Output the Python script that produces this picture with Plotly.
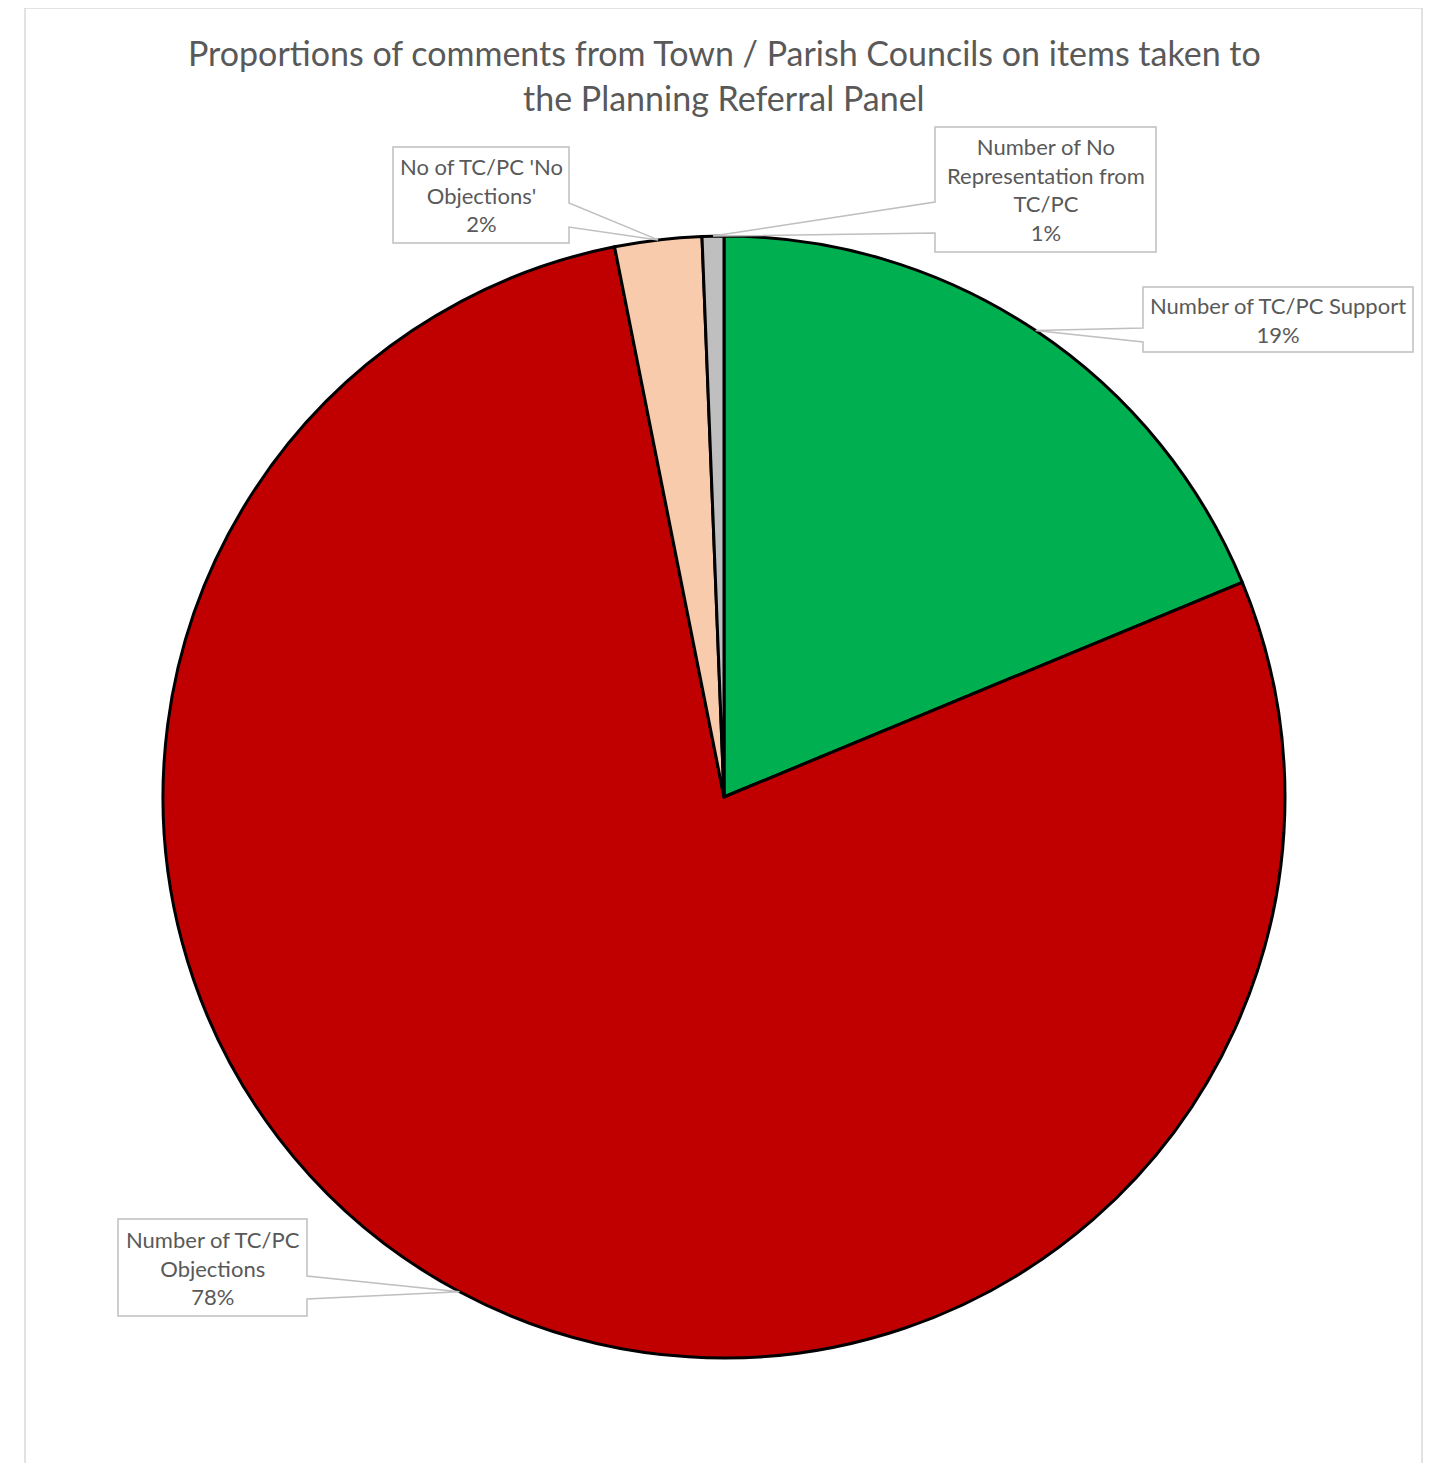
import math
import plotly.graph_objects as go

# ---- data ----
categories = [
    "Number of TC/PC Support",
    "Number of TC/PC Objections",
    "No of TC/PC 'No Objections'",
    "Number of No Representation from TC/PC",
]
label_text = [
    "Number of TC/PC Support",
    "Number of TC/PC<br>Objections",
    "No of TC/PC 'No<br>Objections'",
    "Number of No<br>Representation from<br>TC/PC",
]
counts = [30, 125, 4, 1]
colors = ["#00B050", "#C00000", "#F8CBAD", "#BFBFBF"]
title_lines = [
    "Proportions of comments from Town / Parish Councils on items taken to",
    "the Planning Referral Panel",
]

# ---- layout constants (pixels in the screenshot) ----
W, H = 1437, 1463
OFF = 8  # page body margin
CX, CY, R = 724, 797, 561
FONT = "Lato"
TXT = "#595959"


def px(x):
    return (x - OFF) / W


def py(y):
    return 1 - (y - OFF) / H


fig = go.Figure(
    go.Pie(
        labels=categories,
        values=counts,
        sort=False,
        direction="clockwise",
        rotation=0,
        marker=dict(colors=colors, line=dict(color="black", width=3)),
        textinfo="none",
        hoverinfo="label+percent",
        domain=dict(x=[px(CX - R), px(CX + R)], y=[py(CY + R), py(CY - R)]),
        showlegend=False,
    )
)

# callout boxes: x0, y0, x1, y1, side of wedge, wedge base y0, wedge base y1
boxes = [
    (1143, 287, 1413, 352, "left", 328, 342),
    (118, 1219, 307, 1316, "right", 1276, 1299),
    (393, 147, 569, 243, "right", 203, 227),
    (935, 127, 1156, 252, "left", 202, 233),
]

total = sum(counts)
shapes = []
annotations = []
start = 0
for i, c in enumerate(counts):
    mid = (start + c / 2) / total * 2 * math.pi
    start += c
    tx = CX + R * math.sin(mid)
    ty = CY - R * math.cos(mid)
    x0, y0, x1, y1, side, w0, w1 = boxes[i]
    if side == "left":
        pts = [(x0, y0), (x1, y0), (x1, y1), (x0, y1), (x0, w1), (tx, ty), (x0, w0)]
    else:
        pts = [(x0, y0), (x1, y0), (x1, w0), (tx, ty), (x1, w1), (x1, y1), (x0, y1)]
    path = "M " + " L ".join(f"{px(a):.6f},{py(b):.6f}" for a, b in pts) + " Z"
    shapes.append(dict(type="path", xref="paper", yref="paper", path=path,
                       fillcolor="white", line=dict(color="#BFBFBF", width=1.5)))
    pct = round(100 * c / total)
    annotations.append(dict(
        x=px((x0 + x1) / 2), y=py((y0 + y1) / 2), xref="paper", yref="paper",
        xanchor="center", yanchor="middle", showarrow=False, align="center",
        text=f"{label_text[i]}<br>{pct}%",
        font=dict(family=FONT, size=22, color=TXT),
    ))

# chart area border
shapes.insert(0, dict(type="rect", xref="paper", yref="paper",
                      x0=px(25), x1=px(1422), y0=py(8), y1=py(1490),
                      line=dict(color="#D9D9D9", width=1.5), fillcolor="rgba(0,0,0,0)",
                      layer="below"))

for yy, t in zip([52, 97], title_lines):
    annotations.append(dict(
        x=px(724), y=py(yy), xref="paper", yref="paper", xanchor="center",
        yanchor="middle", showarrow=False, text=t,
        font=dict(family=FONT, size=34, color=TXT),
    ))

fig.update_layout(
    width=W, height=H, autosize=False,
    margin=dict(l=0, r=0, t=0, b=0),
    paper_bgcolor="white", plot_bgcolor="white",
    shapes=shapes, annotations=annotations,
)

fig.write_html("out.html")
